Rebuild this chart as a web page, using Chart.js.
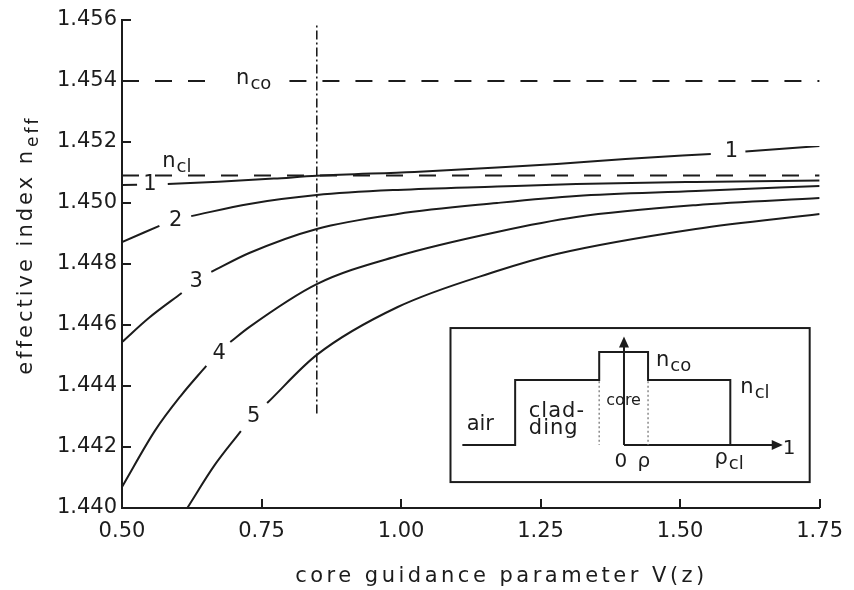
<!DOCTYPE html>
<html>
<head>
<meta charset="utf-8">
<title>Effective index versus core guidance parameter</title>
<script src="https://cdn.jsdelivr.net/npm/chart.js@4.4.1/dist/chart.umd.min.js"></script>
<style>
  html, body { margin: 0; padding: 0; background: #fff; }
  canvas { display: block; }
</style>
</head>
<body>
<canvas id="chart" width="854" height="590"></canvas>
<script>
// Axis ticks
const xTicks = [0.50, 0.75, 1.00, 1.25, 1.50, 1.75];
const yTicks = [1.440, 1.442, 1.444, 1.446, 1.448, 1.450, 1.452, 1.454, 1.456];

// Core and cladding refractive indices
const nCore = 1.454;
const nClad = 1.4509;

// n_co reference line (null leaves room for its label)
const coreLineV = [0.50, 0.66, 0.73, 0.80, 1.75];
const coreLineN = [nCore, nCore, null, nCore, nCore];
const cladLineV = [0.50, 1.75];
const cladLineN = [nClad, nClad];

// Dash-dot marker at the chosen V
const markV = [0.849, 0.849];
const markN = [1.4431, 1.4559];

// Mode curves n_eff(V); a null is the gap where the mode number is written
const mode1V = [0.50, 0.527, 0.55, 0.582, 0.673, 0.772, 0.849, 1.024, 1.172, 1.279, 1.402, 1.555, 1.592, 1.617, 1.75];
const mode1N = [1.45059, 1.45060, null, 1.45062, 1.45070, 1.45080, 1.45089, 1.45102, 1.45116, 1.45128, 1.45144, 1.45161, null, 1.45169, 1.45187];

const mode2V = [0.50, 0.567, 0.596, 0.624, 0.728, 0.849, 0.994, 1.172, 1.314, 1.528, 1.75];
const mode2N = [1.44872, 1.44925, null, 1.44957, 1.44997, 1.45026, 1.45043, 1.45054, 1.45062, 1.45069, 1.45074];

const mode3V = [0.50, 0.548, 0.607, 0.633, 0.660, 0.728, 0.849, 0.994, 1.172, 1.314, 1.528, 1.75];
const mode3N = [1.44544, 1.44623, 1.44705, null, 1.44774, 1.44836, 1.44915, 1.44964, 1.45000, 1.45023, 1.45039, 1.45056];

const mode4V = [0.50, 0.560, 0.605, 0.651, 0.672, 0.694, 0.728, 0.849, 0.994, 1.172, 1.314, 1.528, 1.75];
const mode4N = [1.44069, 1.44256, 1.44367, 1.44466, null, 1.44544, 1.44593, 1.44734, 1.44826, 1.44905, 1.44954, 1.44993, 1.45016];

const mode5V = [0.617, 0.665, 0.713, 0.736, 0.760, 0.849, 0.994, 1.172, 1.279, 1.528, 1.75];
const mode5N = [1.44000, 1.44138, 1.44252, null, 1.44344, 1.44502, 1.44659, 1.44777, 1.44833, 1.44915, 1.44964];

// Mode numbers written on the curves
const modeLabelText = ['1', '2', '3', '4', '5', '1'];
const modeLabelV = [0.55, 0.596, 0.633, 0.674, 0.736, 1.592];
const modeLabelN = [1.45060, 1.44941, 1.44741, 1.44508, 1.44300, 1.45170];

// Index-profile inset: corners in data units
const insetV = [1.0886, 1.7322];
const insetN = [1.44085, 1.44590];

const INK = '#1c1c1c';
const FONT = '"DejaVu Sans", sans-serif';

const pts = (vs, ns) => vs.map((v, i) => ({ x: v, y: ns[i] }));

function curve(vs, ns) {
  return {
    data: pts(vs, ns),
    borderColor: INK,
    borderWidth: 2,
    pointRadius: 0,
    fill: false,
    spanGaps: false,
    cubicInterpolationMode: 'monotone',
    tension: 0.4
  };
}
function straight(vs, ns, dash, width) {
  return {
    data: pts(vs, ns),
    borderColor: INK,
    borderWidth: width,
    borderDash: dash,
    pointRadius: 0,
    fill: false,
    spanGaps: false,
    tension: 0
  };
}

// text with a subscript; (x, y) is the left end of the baseline
function subText(ctx, main, sub, x, y, size, subSize, drop) {
  ctx.font = size + 'px ' + FONT;
  ctx.textAlign = 'left';
  ctx.textBaseline = 'alphabetic';
  ctx.fillText(main, x, y);
  const w = ctx.measureText(main).width;
  ctx.font = subSize + 'px ' + FONT;
  ctx.fillText(sub, x + w + 1, y + drop);
  return w + 1 + ctx.measureText(sub).width;
}
function subWidth(ctx, main, sub, size, subSize) {
  ctx.font = size + 'px ' + FONT;
  const w = ctx.measureText(main).width;
  ctx.font = subSize + 'px ' + FONT;
  return w + 1 + ctx.measureText(sub).width;
}

function arrowHead(ctx, x, y, dir) {
  const L = 11, Wd = 5;
  ctx.beginPath();
  if (dir === 'up') {
    ctx.moveTo(x, y); ctx.lineTo(x - Wd, y + L); ctx.lineTo(x + Wd, y + L);
  } else {
    ctx.moveTo(x, y); ctx.lineTo(x - L, y - Wd); ctx.lineTo(x - L, y + Wd);
  }
  ctx.closePath();
  ctx.fill();
}

const decorations = {
  id: 'decorations',
  afterDatasetsDraw(chart) {
    const ctx = chart.ctx;
    const xs = chart.scales.x, ys = chart.scales.y;
    const area = chart.chartArea;
    ctx.save();
    ctx.strokeStyle = INK;
    ctx.fillStyle = INK;

    // inward tick marks
    ctx.lineWidth = 2;
    ctx.beginPath();
    yTicks.forEach(v => {
      const py = Math.round(ys.getPixelForValue(v));
      ctx.moveTo(area.left, py); ctx.lineTo(area.left + 9, py);
    });
    xTicks.forEach(v => {
      const px = Math.round(xs.getPixelForValue(v));
      ctx.moveTo(px, area.bottom); ctx.lineTo(px, area.bottom - 9);
    });
    ctx.stroke();

    // mode numbers
    ctx.font = '21px ' + FONT;
    ctx.textAlign = 'center';
    ctx.textBaseline = 'middle';
    modeLabelText.forEach((t, i) => {
      ctx.fillText(t, xs.getPixelForValue(modeLabelV[i]), ys.getPixelForValue(modeLabelN[i]));
    });

    // n_co and n_cl labels
    {
      const cx = xs.getPixelForValue(0.736), cy = ys.getPixelForValue(nCore);
      const w = subWidth(ctx, 'n', 'co', 21, 18);
      subText(ctx, 'n', 'co', cx - w / 2, cy + 3, 21, 18, 5);
      const lx = xs.getPixelForValue(0.572), ly = ys.getPixelForValue(1.45129);
      subText(ctx, 'n', 'cl', lx, ly + 3, 21, 18, 5);
    }

    // axis titles
    {
      ctx.letterSpacing = '3.5px';
      const title = 'core guidance parameter V(z)';
      ctx.font = '21px ' + FONT;
      const w = ctx.measureText(title).width;
      const cx = xs.getPixelForValue(1.18);
      ctx.textAlign = 'left';
      ctx.textBaseline = 'alphabetic';
      ctx.fillText(title, cx - w / 2, 582);
    }
    {
      ctx.letterSpacing = '3px';
      ctx.save();
      const cy = ys.getPixelForValue(1.44862);
      ctx.translate(32, cy);
      ctx.rotate(-Math.PI / 2);
      const w = subWidth(ctx, 'effective index n', 'eff', 21, 17);
      subText(ctx, 'effective index n', 'eff', -w / 2, 0, 21, 17, 6);
      ctx.restore();
    }
    ctx.letterSpacing = '0px';

    // refractive-index profile inset
    const bx0 = xs.getPixelForValue(insetV[0]), bx1 = xs.getPixelForValue(insetV[1]);
    const by0 = ys.getPixelForValue(insetN[1]), by1 = ys.getPixelForValue(insetN[0]);
    const W = bx1 - bx0, H = by1 - by0;
    const P = (fx, fy) => [bx0 + fx * W, by0 + fy * H];

    ctx.fillStyle = '#fff';
    ctx.fillRect(bx0, by0, W, H);
    ctx.fillStyle = INK;
    ctx.lineWidth = 2;
    ctx.strokeRect(bx0, by0, W, H);

    const profile = [[0.033, 0.76], [0.18, 0.76], [0.18, 0.338], [0.414, 0.338], [0.414, 0.156],
                     [0.55, 0.156], [0.55, 0.338], [0.779, 0.338], [0.779, 0.76]];
    ctx.beginPath();
    profile.forEach((p, i) => {
      const [x, y] = P(p[0], p[1]);
      if (i === 0) ctx.moveTo(x, y); else ctx.lineTo(x, y);
    });
    ctx.stroke();

    // radial axis and index axis with arrows
    const [ax, ay] = P(0.483, 0.76);
    const [, aTop] = P(0.483, 0.055);
    const [aRight] = P(0.925, 0.76);
    ctx.beginPath();
    ctx.moveTo(ax, ay); ctx.lineTo(ax, aTop + 8);
    ctx.moveTo(ax, ay); ctx.lineTo(aRight - 8, ay);
    ctx.stroke();
    arrowHead(ctx, ax, aTop, 'up');
    arrowHead(ctx, aRight, ay, 'right');

    // dotted core boundaries
    ctx.save();
    ctx.strokeStyle = '#8a8a8a';
    ctx.lineWidth = 1.5;
    ctx.setLineDash([2, 2.5]);
    ctx.beginPath();
    [0.414, 0.55].forEach(fx => {
      const [x, y0] = P(fx, 0.345);
      const [, y1] = P(fx, 0.76);
      ctx.moveTo(x, y0); ctx.lineTo(x, y1);
    });
    ctx.stroke();
    ctx.restore();

    // inset text
    ctx.textAlign = 'left';
    ctx.textBaseline = 'alphabetic';
    ctx.font = '21px ' + FONT;
    let q = P(0.045, 0.665); ctx.fillText('air', q[0], q[1]);
    ctx.letterSpacing = '1px';
    q = P(0.218, 0.575); ctx.fillText('clad-', q[0], q[1]);
    q = P(0.218, 0.685); ctx.fillText('ding', q[0], q[1]);
    ctx.letterSpacing = '0px';
    ctx.font = '16px ' + FONT;
    ctx.textAlign = 'center';
    q = P(0.482, 0.50); ctx.fillText('core', q[0], q[1]);
    ctx.font = '20px ' + FONT;
    q = P(0.474, 0.9); ctx.fillText('0', q[0], q[1]);
    q = P(0.538, 0.9); ctx.fillText('\u03C1', q[0], q[1]);
    ctx.textAlign = 'left';
    q = P(0.925, 0.815); ctx.fillText('1', q[0], q[1]);
    q = P(0.572, 0.245); subText(ctx, 'n', 'co', q[0], q[1], 21, 18, 5);
    q = P(0.807, 0.42); subText(ctx, 'n', 'cl', q[0], q[1], 21, 18, 5);
    q = P(0.735, 0.885); subText(ctx, '\u03C1', 'cl', q[0], q[1], 21, 18, 5);

    ctx.restore();
  }
};

new Chart(document.getElementById('chart'), {
  type: 'line',
  data: {
    datasets: [
      straight(coreLineV, coreLineN, [17, 16], 2),
      straight(cladLineV, cladLineN, [17, 16], 2),
      straight(markV, markN, [9, 3, 2, 3], 1.6),
      curve(mode1V, mode1N),
      curve(mode2V, mode2N),
      curve(mode3V, mode3N),
      curve(mode4V, mode4N),
      curve(mode5V, mode5N)
    ]
  },
  options: {
    responsive: false,
    devicePixelRatio: 1,
    animation: false,
    events: [],
    layout: { padding: { top: 20, right: 28, left: 0, bottom: 0 } },
    plugins: { legend: { display: false }, tooltip: { enabled: false }, title: { display: false } },
    scales: {
      x: {
        type: 'linear',
        min: 0.5,
        max: 1.75,
        afterBuildTicks: s => { s.ticks = xTicks.map(v => ({ value: v })); },
        afterFit: s => { s.height = 82; },
        grid: { display: true, drawOnChartArea: false, drawTicks: false },
        border: { display: true, color: INK, width: 2 },
        ticks: {
          padding: 11,
          color: INK,
          font: { family: FONT, size: 21 },
          maxRotation: 0,
          autoSkip: false,
          callback: v => Number(v).toFixed(2)
        }
      },
      y: {
        type: 'linear',
        min: 1.440,
        max: 1.456,
        afterBuildTicks: s => { s.ticks = yTicks.map(v => ({ value: v })); },
        afterFit: s => { s.width = 122; },
        grid: { display: true, drawOnChartArea: false, drawTicks: false },
        border: { display: true, color: INK, width: 2 },
        ticks: {
          padding: 5,
          color: INK,
          font: { family: FONT, size: 21 },
          autoSkip: false,
          callback: v => Number(v).toFixed(3)
        }
      }
    }
  },
  plugins: [decorations]
});
</script>
</body>
</html>
